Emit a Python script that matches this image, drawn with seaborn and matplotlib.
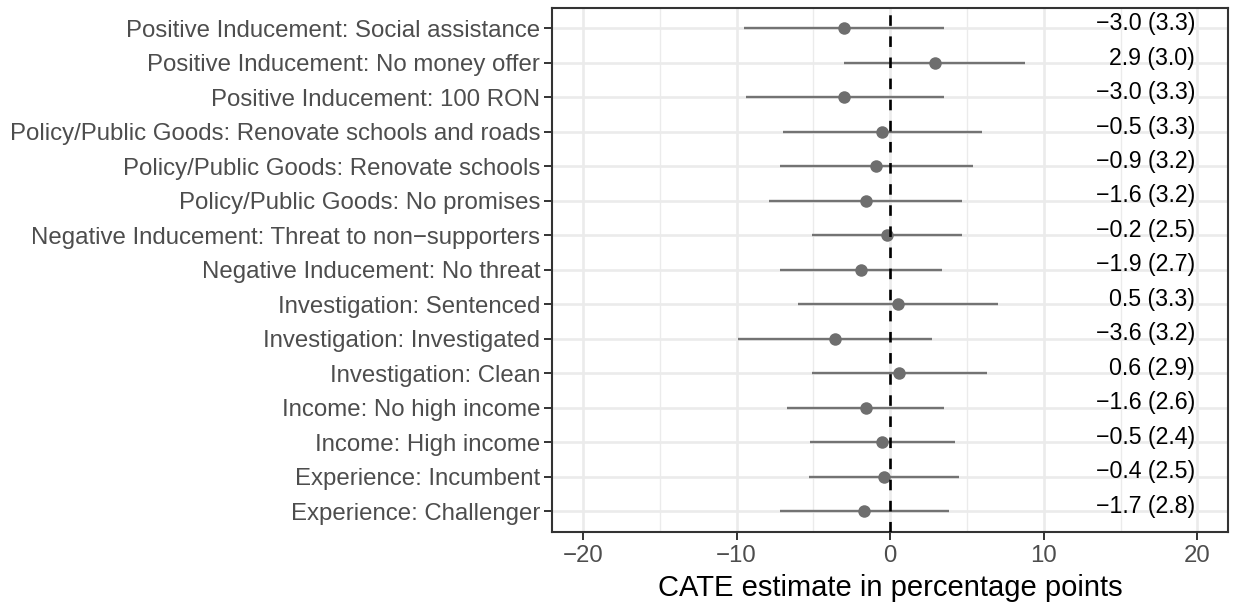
import numpy as np
import pandas as pd
import matplotlib
matplotlib.use("Agg")
import matplotlib.pyplot as plt
import seaborn as sns

# ---- data (top to bottom) ----
labels = [
    "Positive Inducement: Social assistance",
    "Positive Inducement: No money offer",
    "Positive Inducement: 100 RON",
    "Policy/Public Goods: Renovate schools and roads",
    "Policy/Public Goods: Renovate schools",
    "Policy/Public Goods: No promises",
    "Negative Inducement: Threat to non\u2212supporters",
    "Negative Inducement: No threat",
    "Investigation: Sentenced",
    "Investigation: Investigated",
    "Investigation: Clean",
    "Income: No high income",
    "Income: High income",
    "Experience: Incumbent",
    "Experience: Challenger",
]
estimate = [-3.0, 2.9, -3.0, -0.5, -0.9, -1.6, -0.2, -1.9, 0.5, -3.6, 0.6, -1.6, -0.5, -0.4, -1.7]
std_err = [3.3, 3.0, 3.3, 3.3, 3.2, 3.2, 2.5, 2.7, 3.3, 3.2, 2.9, 2.6, 2.4, 2.5, 2.8]
ci_low = [-9.5, -3.0, -9.4, -7.0, -7.2, -7.9, -5.1, -7.2, -6.0, -9.9, -5.1, -6.7, -5.2, -5.3, -7.2]
ci_high = [3.5, 8.8, 3.5, 6.0, 5.4, 4.7, 4.7, 3.4, 7.0, 2.7, 6.3, 3.5, 4.2, 4.5, 3.8]
x_ticks = [-20, -10, 0, 10, 20]
x_title = "CATE estimate in percentage points"

df = pd.DataFrame({"label": labels, "est": estimate, "se": std_err,
                   "lo": ci_low, "hi": ci_high})

sns.set_theme(style="white")
plt.rcParams["font.family"] = ["Liberation Sans", "DejaVu Sans"]

fig = plt.figure(figsize=(12.33, 6.03), dpi=100)
ax = fig.add_axes([552.3 / 1233, 1 - 531.7 / 603, (1228 - 552.3) / 1233, (531.7 - 7.7) / 603])

n = len(labels)
pos = np.arange(n)

# grid
for v in [-15, -5, 5, 15]:
    ax.axvline(v, color="#EBEBEB", lw=0.95, zorder=0)
for v in x_ticks:
    ax.axvline(v, color="#EBEBEB", lw=1.9, zorder=0)
for p in pos:
    ax.axhline(p, color="#EBEBEB", lw=1.9, zorder=0)

# confidence intervals
ax.hlines(y=pos, xmin=df["lo"], xmax=df["hi"], color="#737373", lw=1.7, zorder=2)

# point estimates
sns.pointplot(data=df, x="est", y="label", orient="h", order=labels,
              linestyle="none", markers="o", color="#6E6E6E",
              markersize=9.0, markeredgewidth=0, errorbar=None, ax=ax, zorder=3)

# zero line
ax.axvline(0, color="black", lw=1.9, ls=(0, (4, 4)), zorder=4)

# annotations
for p, e, s in zip(pos, df["est"], df["se"]):
    txt = f"{e:.1f} ({s:.1f})".replace("-", "\u2212")
    ax.text(19.85, p + 0.05, txt, ha="right", va="baseline", fontsize=16.7,
            color="black", zorder=5)

ax.set_xlim(-22, 22)
ax.set_ylim(n - 1 + 0.6, -0.6)
ax.set_xticks(x_ticks)
ax.set_xticklabels([str(t).replace("-", "\u2212") for t in x_ticks])
ax.set_yticks(pos)
ax.set_yticklabels(labels)
ax.set_ylabel("")
ax.set_xlabel(x_title, fontsize=21, color="black", labelpad=5)

ax.tick_params(axis="both", which="major", labelsize=17.3, labelcolor="#4D4D4D",
               color="#333333", length=5.8, width=1.4, direction="out")
ax.tick_params(axis="y", pad=3)
ax.tick_params(axis="x", pad=4)
ax.tick_params(left=True, bottom=True)

for sp in ax.spines.values():
    sp.set_visible(True)
    sp.set_color("#333333")
    sp.set_linewidth(1.5)

ax.grid(False)
fig.savefig("out.png", dpi=100)
